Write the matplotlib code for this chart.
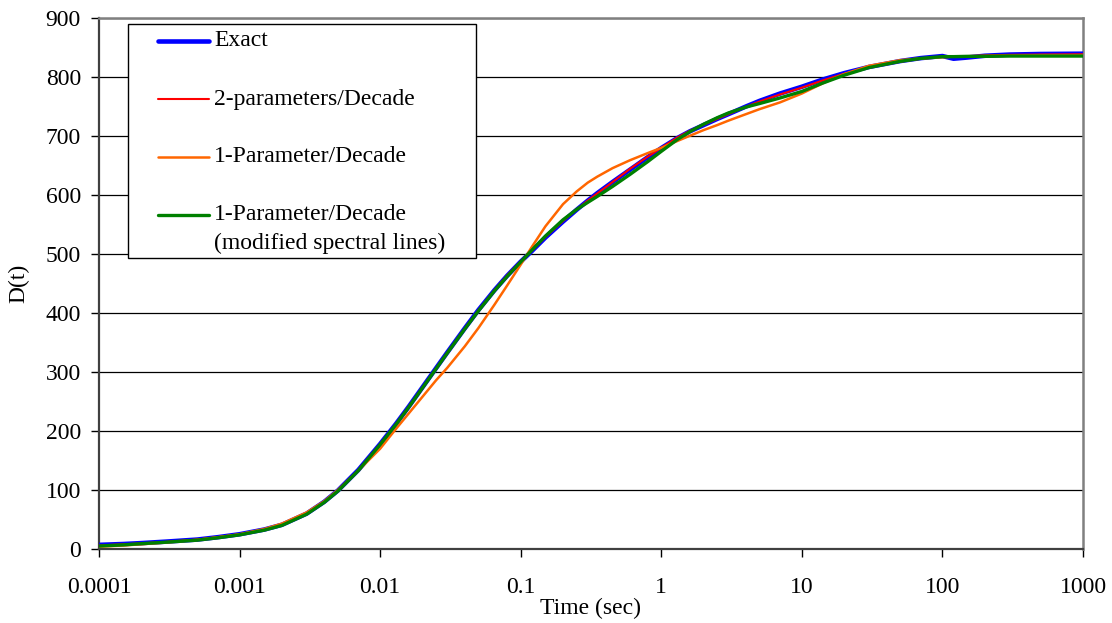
import numpy as np
import matplotlib
matplotlib.use("Agg")
import matplotlib.pyplot as plt
from matplotlib.ticker import FixedLocator, FuncFormatter, NullLocator
from matplotlib.patches import Rectangle
from matplotlib.lines import Line2D

plt.rcParams['font.family'] = ['Liberation Serif', 'DejaVu Serif']

# time points (sec)
t = [1e-4, 1.5e-4, 2e-4, 3e-4, 5e-4, 7e-4, 1e-3, 1.5e-3, 2e-3, 3e-3, 4e-3, 5e-3,
     7e-3, 0.01, 0.013, 0.016, 0.02, 0.025, 0.03, 0.04, 0.05, 0.065, 0.08, 0.1,
     0.12, 0.15, 0.2, 0.25, 0.3, 0.35, 0.45, 0.6, 0.8, 1.0, 1.3, 1.6, 2.0, 2.5,
     3.0, 4.0, 5.0, 7.0, 10, 14, 20, 30, 50, 70, 100, 120, 150, 200, 300, 500, 1000]

# D(t) for each approximation
d_exact = [7, 8.5, 10, 12.5, 16, 20, 25, 33, 41, 60, 80, 99,
           134, 178, 212.5, 241.5, 274, 306.5, 333, 374, 405, 438.5, 463, 487,
           505, 528, 555, 575, 590.5, 603, 622, 643, 664, 679.5, 696.5, 708, 718.5, 729,
           737, 750, 759.5, 772, 783.5, 795.5, 806.5, 817, 827, 832, 835.5, 831, 833, 836, 838, 839, 839.5]
d_two_param = [6, 8, 9.5, 12, 16, 20, 25, 33, 41, 60, 80, 99,
               134, 177.5, 212, 241, 273.5, 306, 332.5, 373.5, 404.5, 438.5, 463.5, 487.5,
               506, 529, 556, 575.5, 590.5, 602.5, 622, 644.5, 665, 680, 697.5, 709, 719, 729,
               737, 749.5, 758.5, 770.5, 782, 794, 805.5, 816, 826, 831, 834.5, 835, 835.5, 836.5, 837.5, 838, 838.5]
d_one_param = [4, 6, 8, 11, 15.5, 20, 25, 34, 43, 62, 81, 100,
               133, 170, 204, 230, 258, 286, 307, 343.5, 374.5, 414, 446.5, 482,
               512, 547, 584.5, 606, 621, 631, 645.5, 659, 671, 680, 691.5, 700.5, 710, 718.5,
               726, 737, 745.5, 757, 772, 789, 805, 819, 828.5, 831.5, 833.5, 834.5, 835, 835.5, 836, 837, 837]
d_modified = [5, 7, 9, 11.5, 15, 19, 24, 32, 40, 59, 79, 98,
              133, 177, 211.5, 240.5, 273, 305.5, 332, 373, 403.5, 437.5, 462, 486.5,
              506.5, 530.5, 558, 575.5, 587.5, 597.5, 614.5, 635, 656.5, 674, 694, 707.5, 720, 731,
              739, 749, 755, 764.5, 775.5, 789.5, 803, 816, 826.5, 831.5, 834.5, 834.5, 835, 835, 835.5, 835.5, 835.5]

series = [
    ('Exact', d_exact, '#0000FF', 3.3),
    ('2-parameters/Decade', d_two_param, '#FF0000', 1.5),
    ('1-Parameter/Decade', d_one_param, '#FF6600', 1.8),
    ('1-Parameter/Decade', d_modified, '#008000', 2.4),
]

FS = 17

fig = plt.figure(figsize=(11.12, 6.23), dpi=100)
ax = fig.add_axes([99 / 1112, 1 - 549 / 623, 984 / 1112, 531 / 623])

for name, d, col, lw in series:
    ax.plot(t, d, color=col, lw=lw, solid_capstyle='round', solid_joinstyle='round', zorder=3)

ax.set_xscale('log')
ax.set_xlim(1e-4, 1e3)
ax.set_ylim(0, 900)

ax.xaxis.set_major_locator(FixedLocator([1e-4, 1e-3, 1e-2, 1e-1, 1, 10, 100, 1000]))
ax.xaxis.set_minor_locator(NullLocator())
ax.xaxis.set_major_formatter(FuncFormatter(lambda v, p: '%g' % v))
ax.set_yticks(np.arange(0, 901, 100))

ax.yaxis.grid(True, color='black', lw=0.9)
ax.set_axisbelow(True)

ax.tick_params(axis='x', direction='out', length=6, width=1, pad=14, labelsize=FS, colors='black')
ax.tick_params(axis='y', direction='out', length=6, width=1, pad=7, labelsize=FS, colors='black')

for side in ['left', 'bottom']:
    ax.spines[side].set_color('#404040')
    ax.spines[side].set_linewidth(1.6)
for side in ['top', 'right']:
    ax.spines[side].set_color('#808080')
    ax.spines[side].set_linewidth(1.8)

ax.set_xlabel('Time (sec)', fontsize=FS, labelpad=0)
ax.set_ylabel('D(t)', fontsize=FS, labelpad=12)

# legend box drawn by hand so the handle sits on the first text line
def px(x, y):
    return (x - 99) / 984, (549 - y) / 531

x0, y0 = px(128, 258)
x1, y1 = px(476, 24)
ax.add_patch(Rectangle((x0, y0), x1 - x0, y1 - y0, transform=ax.transAxes,
                       facecolor='white', edgecolor='black', lw=1.0, zorder=5))
rows = [41, 99, 157, 215]
for (name, d, col, lw), ry in zip(series, rows):
    hx0, hy = px(158, ry)
    hx1, _ = px(209, ry)
    ax.add_line(Line2D([hx0, hx1], [hy, hy], transform=ax.transAxes, color=col,
                       lw=lw, solid_capstyle='round', zorder=6))
    tx, _ = px(214, ry)
    ax.text(tx, hy, name, transform=ax.transAxes, fontsize=FS, va='center', ha='left', zorder=6)
tx, ty = px(214, 243)
ax.text(tx, ty, '(modified spectral lines)', transform=ax.transAxes, fontsize=FS,
        va='center', ha='left', zorder=6)

fig.savefig('out.png', dpi=100)
